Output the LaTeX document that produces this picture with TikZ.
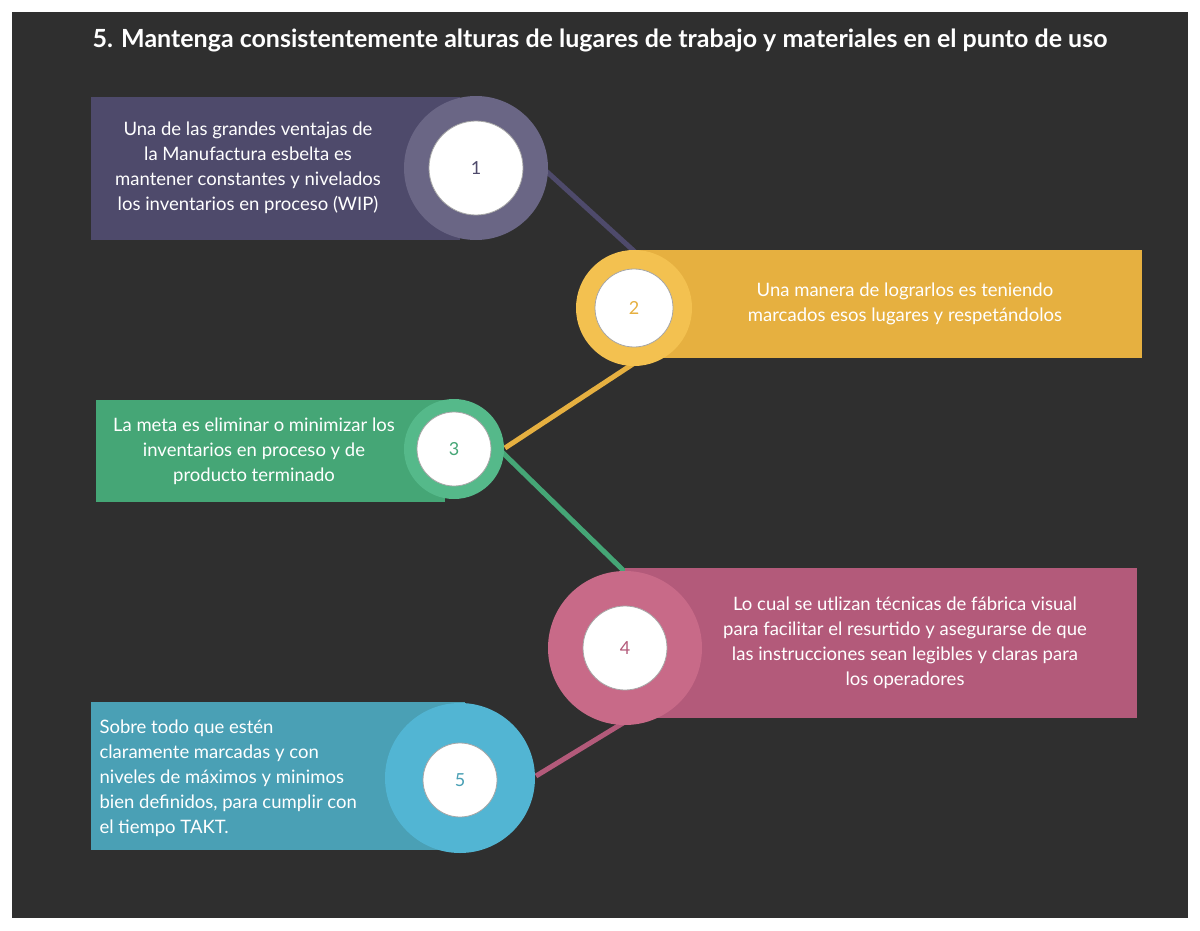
\documentclass[tikz,border=0pt]{standalone}
\usepackage{fontspec}
\setmainfont{Lato}
\definecolor{bg}{HTML}{2F2F2F}
\definecolor{cA}{HTML}{4E4A6B}\definecolor{cAl}{HTML}{6A6685}
\definecolor{cB}{HTML}{E6B040}\definecolor{cBl}{HTML}{F3C150}
\definecolor{cC}{HTML}{45A676}\definecolor{cCl}{HTML}{55B98A}
\definecolor{cD}{HTML}{B35A7A}\definecolor{cDl}{HTML}{C86A88}
\definecolor{cE}{HTML}{4AA0B5}\definecolor{cEl}{HTML}{52B5D3}
\tikzset{
 inner/.style={circle,fill=white,draw=gray!70,line width=0.8pt,minimum size=#1,inner sep=0pt,font=\fontsize{18}{20}\selectfont},
 txt/.style={text=white,font=\fontsize{18.5}{25}\selectfont,align=center},
 conn/.style={line width=5pt}
}
\begin{document}
\begin{tikzpicture}[x=1pt,y=-1pt]
\useasboundingbox (0,0) rectangle (1200,931);
\fill[white] (0,0) rectangle (1200,931);
\fill[bg] (12,12) rectangle (1188,918);
\node[text=white,font=\bfseries\fontsize{25}{30}\selectfont] (title) at (600,40) {5. Mantenga consistentemente alturas de lugares de trabajo y materiales en el punto de uso};
% connectors
\coordinate (p1) at (545,170); \coordinate (p2) at (635,252);
\coordinate (p3) at (636,362); \coordinate (p4) at (505,448);
\coordinate (p5) at (502,452); \coordinate (p6) at (625,572);
\coordinate (p7) at (628,720); \coordinate (p8) at (536,776);
\draw[conn,cA] (p1) -- (p2);
\draw[conn,cB] (p3) -- (p4);
\draw[conn,cC] (p5) -- (p6);
\draw[conn,cD] (p7) -- (p8);
% 1
\fill[cA] (91,97) rectangle (460,240);
\fill[cAl] (476,168) circle (72);
\node[inner=94pt,text=cA] (n1) at (476,168) {1};
\node[txt] (t1) at (248,168) {Una de las grandes ventajas de\\la Manufactura esbelta es\\mantener constantes y nivelados\\los inventarios en proceso (WIP)};
% 2
\fill[cB] (630,250) rectangle (1142,358);
\fill[cBl] (634,308) circle (58);
\node[inner=78pt,text=cB] (n2) at (634,308) {2};
\node[txt] (t2) at (905,304) {Una manera de lograrlos es teniendo\\marcados esos lugares y respetándolos};
% 3
\fill[cC] (96,400) rectangle (445,502);
\fill[cCl] (454,449) circle (50);
\node[inner=74pt,text=cC] (n3) at (454,449) {3};
\node[txt] (t3) at (254,451) {La meta es eliminar o minimizar los\\inventarios en proceso y de\\producto terminado};
% 4
\fill[cD] (625,568) rectangle (1137,718);
\fill[cDl] (625,648) circle (77);
\node[inner=84pt,text=cD] (n4) at (625,648) {4};
\node[txt] (t4) at (905,643) {Lo cual se utlizan técnicas de fábrica visual\\para facilitar el resurtido y asegurarse de que\\las instrucciones sean legibles y claras para\\los operadores};
% 5
\fill[cE] (91,702) rectangle (465,850);
\fill[cEl] (460,778) circle (75);
\node[inner=74pt,text=cE] (n5) at (460,780) {5};
\node[txt,align=left,anchor=west] (t5) at (96,778) {Sobre todo que estén\\claramente marcadas y con\\niveles de máximos y minimos\\bien definidos, para cumplir con\\el tiempo TAKT.};
\end{tikzpicture}
\end{document}
